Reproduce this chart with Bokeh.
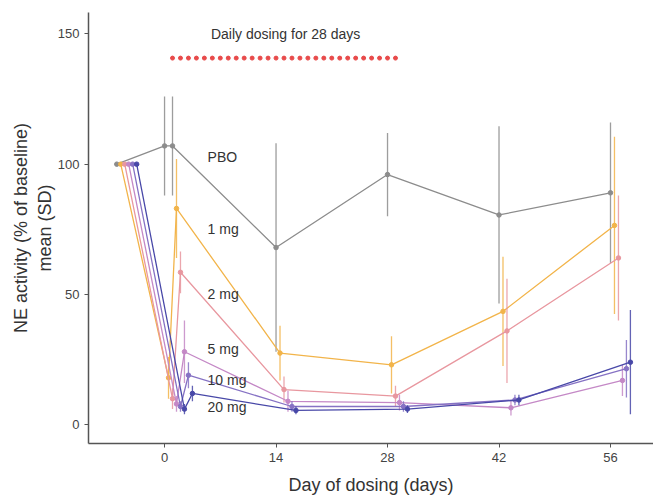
from bokeh.plotting import figure
from bokeh.models import ColumnDataSource, Label, Range1d, FixedTicker
from bokeh.embed import file_html
from bokeh.resources import INLINE

# ---- data ----
days = [-6, 0, 1, 14, 28, 42, 56]
groups = ["PBO", "1 mg", "2 mg", "5 mg", "10 mg", "20 mg"]
pbo_mean = [100, 107, 107, 68, 96, 80.5, 89]
pbo_sd = [0, 19, 19, 40, 16, 34, 27]
mg1_mean = [100, 18, 83, 27.5, 23, 43.5, 76.5]
mg1_sd = [0, 8, 19, 10.5, 11, 21, 34]
mg2_mean = [100, 10, 58.5, 13.5, 11, 36, 64]
mg2_sd = [0, 4, 8, 5, 4, 20, 24]
mg5_mean = [100, 8, 28, 9, 8.5, 6.5, 17]
mg5_sd = [0, 3, 12, 4, 3, 3, 6]
mg10_mean = [100, 7, 19, 7, 7, 9.5, 21.5]
mg10_sd = [0, 2, 5, 2, 2, 2, 11]
mg20_mean = [100, 6, 12, 5.5, 6, 9.5, 24]
mg20_sd = [0, 2, 3, 1.5, 1.5, 2, 20]
dosing_days = list(range(1, 30))
x_ticks = [0, 14, 28, 42, 56]
y_ticks = [0, 50, 100, 150]

means = [pbo_mean, mg1_mean, mg2_mean, mg5_mean, mg10_mean, mg20_mean]
sds = [pbo_sd, mg1_sd, mg2_sd, mg5_sd, mg10_sd, mg20_sd]

# ---- style ----
colors = ["#8c8c8c", "#f2b44a", "#e8979f", "#c488c6", "#8672c4", "#4848a8"]
dodge = [0.0, 0.5, 1.0, 1.5, 2.0, 2.5]
FONT = "Liberation Sans"

p = figure(width=653, height=497, output_backend="svg", toolbar_location=None,
           x_range=Range1d(-9.55, 61.4), y_range=Range1d(-7.2, 158.2),
           min_border_left=88, min_border_right=0, min_border_top=12,
           min_border_bottom=50)
p.outline_line_color = None
p.xgrid.grid_line_color = None
p.ygrid.grid_line_color = None
p.background_fill_color = "white"

for g, m, s, c, d in zip(groups, means, sds, colors, dodge):
    xs = [day + d for day in days]
    src = ColumnDataSource(dict(x=xs, y=m,
                                lo=[a - b for a, b in zip(m, s)],
                                hi=[a + b for a, b in zip(m, s)]))
    p.segment(x0="x", y0="lo", x1="x", y1="hi", source=src,
              line_color=c, line_width=1.3, line_alpha=0.85)
    p.line(x="x", y="y", source=src, line_color=c, line_width=1.3)
    p.scatter(x="x", y="y", source=src, size=4.5, fill_color=c,
              line_color=c)

# dosing dots
p.scatter(x=dosing_days, y=[140.7] * len(dosing_days), size=4,
          fill_color="#e84a4a", line_color="#e84a4a")
p.add_layout(Label(x=15.2, y=149.8, text="Daily dosing for 28 days",
                   text_align="center", text_baseline="middle",
                   text_font=FONT, text_font_size="14px",
                   text_color="#333333"))

# group labels
label_y = [102.7, 75.3, 50.2, 28.9, 17.1, 6.8]
for g, ly in zip(groups, label_y):
    p.add_layout(Label(x=5.4, y=ly, text=g, text_align="left",
                       text_baseline="middle", text_font=FONT,
                       text_font_size="14px", text_color="#333333"))

for ax in (p.xaxis, p.yaxis):
    ax.axis_line_color = "#555555"
    ax.axis_line_width = 1.5
    ax.major_tick_line_color = "#555555"
    ax.major_tick_out = 4
    ax.major_tick_in = 0
    ax.minor_tick_line_color = None
    ax.major_label_text_font = FONT
    ax.major_label_text_font_size = "13px"
    ax.major_label_text_color = "#444444"
    ax.axis_label_text_font = FONT
    ax.axis_label_text_font_style = "normal"
    ax.axis_label_text_font_size = "18px"
    ax.axis_label_text_color = "#333333"

p.xaxis.ticker = FixedTicker(ticks=x_ticks)
p.yaxis.ticker = FixedTicker(ticks=y_ticks)
p.xaxis.axis_label = "Day of dosing (days)"
p.yaxis.axis_label = "NE activity (% of baseline)\nmean (SD)"
p.xaxis.axis_label_standoff = 10
p.yaxis.axis_label_standoff = 0

open("out.html", "w").write(file_html(p, INLINE))
